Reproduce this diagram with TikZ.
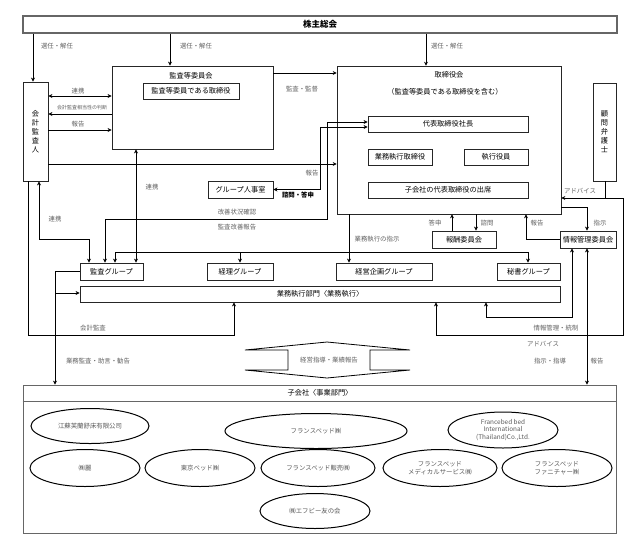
\documentclass[tikz,border=0pt]{standalone}
\usepackage{fontspec}
\setmainfont{Noto Sans CJK JP}
\usetikzlibrary{arrows.meta,shapes.geometric,calc}
\begin{document}
\begin{tikzpicture}[x=1pt,y=-1pt,
  box/.style={draw=black!85,line width=0.8pt,inner sep=0pt,font=\fontsize{7.2}{8}\selectfont},
  vbox/.style={box,align=center,font=\fontsize{7.2}{9}\selectfont},
  ttl/.style={inner sep=0pt,font=\fontsize{7.2}{8}\selectfont},
  lbl/.style={font=\fontsize{6.4}{7}\selectfont,text=black!62,inner sep=0pt},
  slbl/.style={font=\fontsize{5}{6}\selectfont,text=black!62,inner sep=0pt},
  arr/.style={-{Stealth[length=4pt,width=4pt]},line width=0.6pt},
  darr/.style={{Stealth[length=4pt,width=4pt]}-{Stealth[length=4pt,width=4pt]},line width=0.6pt},
  ln/.style={line width=0.6pt},
  ell/.style={draw,ellipse,line width=1pt,inner sep=0pt,font=\fontsize{6.4}{7.8}\selectfont,text=black!65,align=center}
]
\useasboundingbox (0,0) rectangle (640,550);

% ---- boxes ----
\node[box,minimum width=594pt,minimum height=17pt,draw=black!60,line width=1.3pt,font=\bfseries\fontsize{8.5}{9}\selectfont] (kab) at (320,24.5) {株主総会};
\node[vbox,minimum width=25pt,minimum height=99pt] (kaikei) at (35.5,131.5) {会\\計\\監\\査\\人};
\node[box,minimum width=161pt,minimum height=83pt] (iinkai) at (192.5,107.5) {};
\node[ttl] (iinkaiT) at (191,76) {監査等委員会};
\node[box,minimum width=96pt,minimum height=16pt] (iintori) at (191,91) {監査等委員である取締役};
\node[box,minimum width=224pt,minimum height=148pt,line width=0.6pt] (tori) at (449,140) {};
\node[ttl] (toriT) at (449,75) {取締役会};
\node[ttl] (toriS) at (445,92) {（監査等委員である取締役を含む）};
\node[box,minimum width=160pt,minimum height=16pt] (shacho) at (448,124) {代表取締役社長};
\node[box,minimum width=64pt,minimum height=16pt] (gyotori) at (400,157) {業務執行取締役};
\node[box,minimum width=64pt,minimum height=16pt] (shikko) at (496,157) {執行役員};
\node[box,minimum width=160pt,minimum height=16pt] (shusseki) at (448,190) {子会社の代表取締役の出席};
\node[vbox,minimum width=23pt,minimum height=98pt] (komon) at (604.5,132) {顧\\問\\弁\\護\\士};
\node[box,minimum width=65pt,minimum height=17pt] (jinji) at (240.5,189.5) {グループ人事室};
\node[box,minimum width=64pt,minimum height=17pt] (hoshu) at (464,239.5) {報酬委員会};
\node[box,minimum width=56pt,minimum height=17pt] (joho) at (588,239.5) {情報管理委員会};
\node[box,minimum width=63pt,minimum height=17pt] (kansaG) at (111.5,271.5) {監査グループ};
\node[box,minimum width=66pt,minimum height=17pt] (keiriG) at (240,271.5) {経理グループ};
\node[box,minimum width=96pt,minimum height=17pt] (keieiG) at (384,271.5) {経営企画グループ};
\node[box,minimum width=63pt,minimum height=17pt] (hishoG) at (528.5,271.5) {秘書グループ};
\node[box,minimum width=480pt,minimum height=16pt] (gyomu) at (320,294) {業務執行部門〈業務執行〉};
\node[box,minimum width=593pt,minimum height=148pt,draw=black!60] (kogai) at (319.5,459) {};
\node[ttl] (kogaiT) at (320,393) {子会社〈事業部門〉};
\draw[line width=0.6pt,black!60] (kogai.west |- 0,401) -- (kogai.east |- 0,401);

% ---- ellipses ----
\node[ell,minimum width=118pt,minimum height=35pt] (e1) at (90,426) {江蘇芙蘭舒床有限公司};
\node[ell,minimum width=182pt,minimum height=35pt] (e2) at (316,431) {フランスベッド㈱};
\node[ell,minimum width=110pt,minimum height=36pt] (e3) at (503,430) {Francebed bed\\International\\(Thailand)Co.,Ltd.};
\node[ell,minimum width=110pt,minimum height=37pt] (e4) at (85,468) {㈱麗};
\node[ell,minimum width=110pt,minimum height=37pt] (e5) at (200,468) {東京ベッド㈱};
\node[ell,minimum width=114pt,minimum height=37pt] (e6) at (318,468) {フランスベッド販売㈱};
\node[ell,minimum width=114pt,minimum height=37pt] (e7) at (440,468) {フランスベッド\\メディカルサービス㈱};
\node[ell,minimum width=110pt,minimum height=37pt] (e8) at (557,468) {フランスベッド\\ファニチャー㈱};
\node[ell,minimum width=110pt,minimum height=35pt] (e9) at (315,511) {㈱エフビー友の会};

% ---- connectors ----
\draw[arr] (kab.south -| 33,0) -- (kaikei.north -| 33,0);
\draw[arr] (kab.south -| 170,0) -- (iinkai.north -| 170,0);
\draw[arr] (kab.south -| 426,0) -- (tori.north -| 426,0);
\draw[darr] (kaikei.east |- 0,96) -- (iinkai.west |- 0,96);
\draw[arr] (iinkai.west |- 0,114) -- (kaikei.east |- 0,114);
\draw[arr] (kaikei.east |- 0,130) -- (iinkai.west |- 0,130);
\draw[arr] (iinkai.east |- 0,73) -- (tori.west |- 0,73);
\draw[arr] (kaikei.east |- 0,164) -- (tori.west |- 0,164);
\draw[darr] (jinji.east) -| (320,127) -- (shacho.west |- 0,127);
\draw[darr] (kansaG.north -| 105,0) |- (327,219) |- (shacho.west |- 0,122);
\draw[darr] (iinkai.south -| 136,0) -- (kansaG.north -| 136,0);
\draw[darr] (kaikei.south -| 39,0) |- (89,239) -- (kansaG.north -| 89,0);
\draw[arr] (kaikei.south -| 28,0) |- (234,335) -- (gyomu.south -| 234,0);
\draw[arr] (tori.south -| 349,0) -- (keieiG.north -| 349,0);
\coordinate (jL) at (115,252);
\coordinate (jR) at (528,252);
\draw[ln] (jL) -- (jR);
\draw[arr] (jL) -- (kansaG.north -| jL);
\draw[arr] (keiriG.north |- jL) -- (keiriG.north);
\draw[arr] (jR) -- (hishoG.north -| jR);
\draw[arr] (kansaG.west) -| (kogai.north -| 55,0);
\coordinate (b55) at (55,293);
\draw[arr] (b55) -- (gyomu.west |- b55);
\coordinate (kL) at (605,198);
\coordinate (kR) at (623,198);
\draw[ln] (komon.south -| kL) -- (kL);
\draw[arr] (kR) -- (tori.east |- kR);
\draw[arr] (kR) |- (436,335) -- (gyomu.south -| 436,0);
\draw[arr] (tori.east |- 0,207) -| (joho.north -| 587,0);
\draw[arr] (joho.west) -| (tori.south -| 526,0);
\draw[darr] (joho.south -| 572,0) |- (486,317) -- (gyomu.south -| 486,0);
\draw[darr] (joho.south -| 587,0) -- (kogai.north -| 587,0);
\draw[arr] (hoshu.north -| 452,0) -- (tori.south -| 452,0);
\draw[arr] (tori.south -| 476,0) -- (hoshu.north -| 476,0);

% ---- hollow double arrow ----
\draw[line width=0.8pt] (245,350) -- (327,342) -- (410,350) -- (370,350) -- (370,370) -- (410,370) -- (327,378) -- (245,370) -- (288,370) -- (288,350) -- cycle;
\node[lbl] (keiei) at (329,360) {経営指導・業績報告};

% ---- labels ----
\node[lbl] (l1) at (57,46) {選任・解任};
\node[lbl] (l2) at (196,46) {選任・解任};
\node[lbl] (l3) at (447,46) {選任・解任};
\node[lbl] (l4) at (78,91) {連携};
\node[slbl] (l5) at (82,108) {会計監査相当性の判断};
\node[lbl] (l6) at (78,124) {報告};
\node[lbl] (l7) at (302,89) {監査・監督};
\node[lbl] (l8) at (312,173) {報告};
\node[lbl,text=black,font=\bfseries\fontsize{6.4}{7}\selectfont] (l9) at (298,195) {諮問・答申};
\node[lbl] (l10) at (152,187) {連携};
\node[lbl] (l11) at (237,212) {改善状況確認};
\node[lbl] (l12) at (237,227) {監査改善報告};
\node[lbl] (l13) at (55,219) {連携};
\node[lbl] (l14) at (377,239) {業務執行の指示};
\node[lbl] (l15) at (435,223) {答申};
\node[lbl] (l16) at (487,223) {諮問};
\node[lbl] (l17) at (537,223) {報告};
\node[lbl] (l18) at (600,223) {指示};
\node[lbl] (l19) at (580,191) {アドバイス};
\node[lbl] (l20) at (556,328) {情報管理・統制};
\node[lbl] (l21) at (543,344) {アドバイス};
\node[lbl] (l22) at (550,361) {指示・指導};
\node[lbl] (l23) at (597,361) {報告};
\node[lbl] (l24) at (93,328) {会計監査};
\node[lbl] (l25) at (98,361) {業務監査・助言・勧告};
\end{tikzpicture}
\end{document}
